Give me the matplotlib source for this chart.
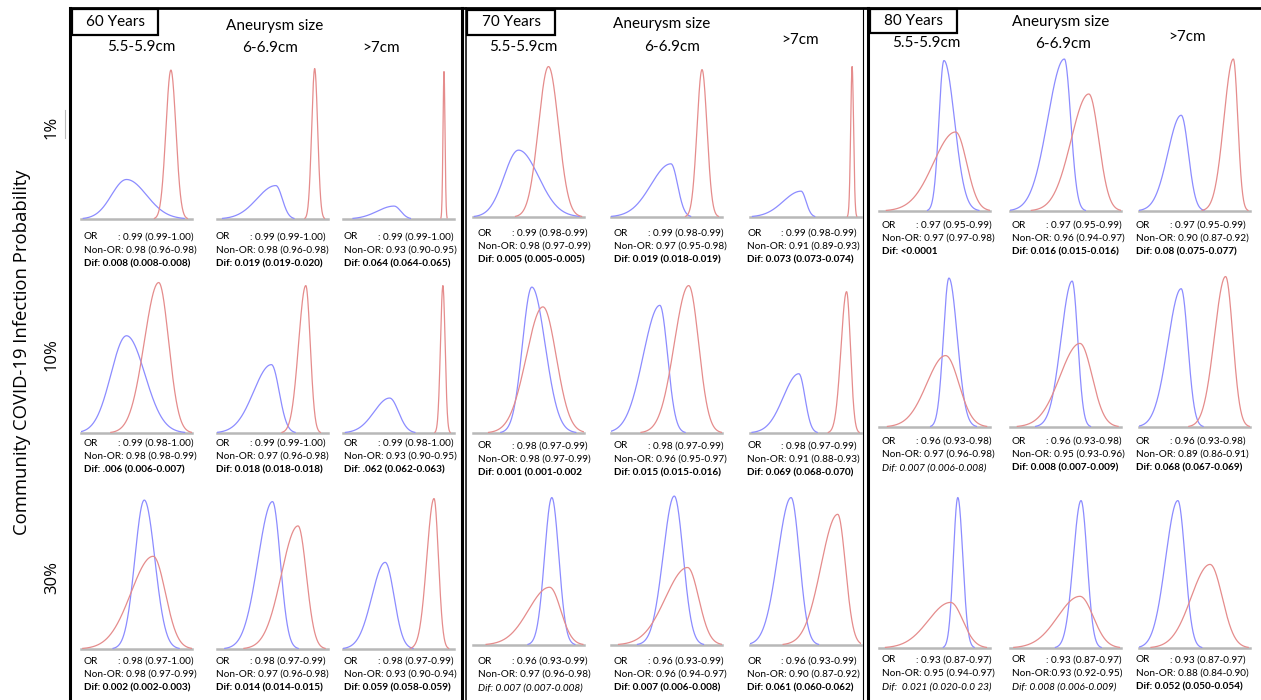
"""Three age panels of OR vs non-OR density curves (3x3 grid each)."""
import numpy as np
import matplotlib

matplotlib.use("Agg")
import matplotlib.pyplot as plt  # noqa: E402
from matplotlib.lines import Line2D  # noqa: E402
from matplotlib.patches import Rectangle  # noqa: E402

AGES = ["60 Years", "70 Years", "80 Years"]
SIZES = ["5.5-5.9cm", "6-6.9cm", ">7cm"]
PROBS = ["1%", "10%", "30%"]

# curve params per cell (row-major): (mode, sd left, sd right, peak height)
BLUE_60 = [(0.41, 0.135, 0.18, 0.26), (0.53, 0.17, 0.058, 0.22), (0.46, 0.15, 0.06, 0.085),
           (0.41, 0.14, 0.165, 0.64), (0.49, 0.16, 0.07, 0.45), (0.42, 0.14, 0.08, 0.23),
           (0.57, 0.085, 0.095, 0.98), (0.50, 0.13, 0.07, 0.97), (0.38, 0.12, 0.08, 0.57)]
RED_60 = [(0.81, 0.045, 0.045, 0.98), (0.88, 0.027, 0.027, 0.99), (0.91, 0.009, 0.009, 0.97),
          (0.70, 0.13, 0.09, 0.99), (0.80, 0.065, 0.04, 0.97), (0.90, 0.022, 0.02, 0.97),
          (0.65, 0.20, 0.11, 0.61), (0.73, 0.15, 0.075, 0.81), (0.82, 0.065, 0.04, 0.99)]
BLUE_70 = [(0.41, 0.13, 0.18, 0.44), (0.54, 0.18, 0.06, 0.35), (0.46, 0.16, 0.045, 0.17),
           (0.53, 0.085, 0.12, 0.96), (0.44, 0.15, 0.07, 0.84), (0.44, 0.14, 0.055, 0.39),
           (0.71, 0.065, 0.063, 0.97), (0.57, 0.10, 0.08, 0.98), (0.37, 0.12, 0.075, 0.97)]
RED_70 = [(0.68, 0.09, 0.09, 0.99), (0.82, 0.045, 0.045, 0.97), (0.92, 0.013, 0.013, 0.99),
          (0.63, 0.15, 0.12, 0.83), (0.70, 0.13, 0.09, 0.97), (0.87, 0.05, 0.035, 0.93),
          (0.69, 0.19, 0.10, 0.38), (0.69, 0.20, 0.10, 0.51), (0.79, 0.15, 0.07, 0.86)]
BLUE_80 = [(0.585, 0.045, 0.095, 0.99), (0.49, 0.15, 0.057, 1.0), (0.38, 0.12, 0.065, 0.63),
           (0.63, 0.05, 0.075, 0.98), (0.56, 0.10, 0.05, 0.96), (0.38, 0.12, 0.06, 0.91),
           (0.71, 0.04, 0.045, 0.99), (0.64, 0.07, 0.055, 0.97), (0.35, 0.11, 0.065, 0.97)]
RED_80 = [(0.69, 0.20, 0.10, 0.52), (0.71, 0.16, 0.09, 0.77), (0.85, 0.085, 0.04, 1.0),
          (0.60, 0.17, 0.12, 0.47), (0.63, 0.18, 0.11, 0.55), (0.78, 0.10, 0.065, 0.99),
          (0.645, 0.20, 0.11, 0.30), (0.63, 0.20, 0.12, 0.34), (0.64, 0.17, 0.11, 0.55)]

OR_60 = ["0.99 (0.99-1.00)", "0.99 (0.99-1.00)", "0.99 (0.99-1.00)",
         "0.99 (0.98-1.00)", "0.99 (0.99-1.00)", "0.99 (0.98-1.00)",
         "0.98 (0.97-1.00)", "0.98 (0.97-0.99)", "0.98 (0.97-0.99)"]
NONOR_60 = ["Non-OR: 0.98 (0.96-0.98)", "Non-OR: 0.98 (0.96-0.98)", "Non-OR: 0.93 (0.90-0.95)",
            "Non-OR: 0.98 (0.98-0.99)", "Non-OR: 0.97 (0.96-0.98)", "Non-OR: 0.93 (0.90-0.95)",
            "Non-OR: 0.98 (0.97-0.99)", "Non-OR: 0.97 (0.96-0.98)", "Non-OR: 0.93 (0.90-0.94)"]
DIF_60 = ["Dif: 0.008 (0.008-0.008)", "Dif: 0.019 (0.019-0.020)", "Dif: 0.064 (0.064-0.065)",
          "Dif: .006 (0.006-0.007)", "Dif: 0.018 (0.018-0.018)", "Dif: .062 (0.062-0.063)",
          "Dif: 0.002 (0.002-0.003)", "Dif: 0.014 (0.014-0.015)", "Dif: 0.059 (0.058-0.059)"]
OR_70 = ["0.99 (0.98-0.99)", "0.99 (0.98-0.99)", "0.99 (0.98-0.99)",
         "0.98 (0.97-0.99)", "0.98 (0.97-0.99)", "0.98 (0.97-0.99)",
         "0.96 (0.93-0.99)", "0.96 (0.93-0.99)", "0.96 (0.93-0.99)"]
NONOR_70 = ["Non-OR: 0.98 (0.97-0.99)", "Non-OR: 0.97 (0.95-0.98)", "Non-OR: 0.91 (0.89-0.93)",
            "Non-OR: 0.98 (0.97-0.99)", "Non-OR: 0.96 (0.95-0.97)", "Non-OR: 0.91 (0.88-0.93)",
            "Non-OR: 0.97 (0.96-0.98)", "Non-OR: 0.96 (0.94-0.97)", "Non-OR: 0.90 (0.87-0.92)"]
DIF_70 = ["Dif: 0.005 (0.005-0.005)", "Dif: 0.019 (0.018-0.019)", "Dif: 0.073 (0.073-0.074)",
          "Dif: 0.001 (0.001-0.002", "Dif: 0.015 (0.015-0.016)", "Dif: 0.069 (0.068-0.070)",
          "Dif: 0.007 (0.007-0.008)", "Dif: 0.007 (0.006-0.008)", "Dif: 0.061 (0.060-0.062)"]
OR_80 = ["0.97 (0.95-0.99)", "0.97 (0.95-0.99)", "0.97 (0.95-0.99)",
         "0.96 (0.93-0.98)", "0.96 (0.93-0.98)", "0.96 (0.93-0.98)",
         "0.93 (0.87-0.97)", "0.93 (0.87-0.97)", "0.93 (0.87-0.97)"]
NONOR_80 = ["Non-OR: 0.97 (0.97-0.98)", "Non-OR: 0.96 (0.94-0.97)", "Non-OR: 0.90 (0.87-0.92)",
            "Non-OR: 0.97 (0.96-0.98)", "Non-OR: 0.95 (0.93-0.96)", "Non-OR: 0.89 (0.86-0.91)",
            "Non-OR: 0.95 (0.94-0.97)", "Non-OR:0.93 (0.92-0.95)", "Non-OR: 0.88 (0.84-0.90)"]
DIF_80 = ["Dif: <0.0001", "Dif: 0.016 (0.015-0.016)", "Dif: 0.08 (0.075-0.077)",
          "Dif: 0.007 (0.006-0.008)", "Dif: 0.008 (0.007-0.009)", "Dif: 0.068 (0.067-0.069)",
          "Dif:  0.021 (0.020-0.0 23)", "Dif: 0.008 (0.006-0.009)", "Dif: 0.052 (0.050-0.054)"]
DIF_ITALIC = [set(), {6}, {3, 6, 7}]

PANELS = [(BLUE_60, RED_60, OR_60, NONOR_60, DIF_60),
          (BLUE_70, RED_70, OR_70, NONOR_70, DIF_70),
          (BLUE_80, RED_80, OR_80, NONOR_80, DIF_80)]

# layout in reference pixels (x from left, y from top)
W, H = 1261, 700
COL_LEFT = [[81, 217, 343], [473, 611, 750], [879, 1010, 1139]]
ROW_BASE = [[219, 433, 649], [217, 433, 645], [211, 427, 648]]
TEXT_X = [[84, 216, 344], [478, 614, 747], [882, 1012, 1136]]
TEXT_Y = [[237, 443, 661], [233, 446, 661], [225, 441, 660]]
CELL_W, CELL_H = 111, 155
BOX = [(72, 9, 86, 26), (467, 10, 88, 25), (870, 9, 87, 24)]
TITLE_XY = [(275, 26), (662, 24), (1061, 22)]
SIZE_XY = [[(141, 47), (270, 48), (381, 48)],
           [(523, 47), (672, 47), (800, 40)],
           [(926, 43), (1063, 44), (1187, 37)]]
PROB_Y = [127, 355, 578]

BLUE = "#8c8cff"
RED = "#e58c8c"
FONT = ["Lato", "DejaVu Sans"]
SMALL = 7.2


def fx(x):
    return x / W


def fy(y):
    return 1 - y / H


def density(x, mode, sl, sr, peak):
    s = np.where(x < mode, sl, sr)
    return peak * np.exp(-0.5 * ((x - mode) / s) ** 2)


fig = plt.figure(figsize=(12.61, 7), dpi=100)
xs = np.linspace(0, 1, 500)

for p, (blue, red, ors, nonors, difs) in enumerate(PANELS):
    # header
    bx, by, bw, bh = BOX[p]
    fig.add_artist(Rectangle((fx(bx), fy(by + bh)), bw / W, bh / H, fill=False,
                             lw=1.6, edgecolor="black", transform=fig.transFigure))
    fig.text(fx(bx + bw / 2), fy(by + bh / 2), AGES[p], ha="center", va="center",
             fontsize=11, family=FONT)
    fig.text(fx(TITLE_XY[p][0]), fy(TITLE_XY[p][1]), "Aneurysm size", ha="center",
             va="center", fontsize=11, family=FONT)
    for c in range(3):
        sx, sy = SIZE_XY[p][c]
        fig.text(fx(sx), fy(sy), SIZES[c], ha="center", va="center", fontsize=11, family=FONT)

    for r in range(3):
        for c in range(3):
            i = r * 3 + c
            left, base = COL_LEFT[p][c], ROW_BASE[p][r]
            ax = fig.add_axes([fx(left), fy(base), CELL_W / W, CELL_H / H])
            ax.set_xlim(0, 1)
            ax.set_ylim(0, 1.02)
            ax.axis("off")
            ax.axhline(0, color="#b8b8b8", lw=1.8, clip_on=False, zorder=1)
            for params, col in ((blue, BLUE), (red, RED)):
                ys = density(xs, *params[i])
                ys = np.where(ys > 0.004, ys, np.nan)
                ax.plot(xs, ys, color=col, lw=0.9, zorder=2)

            tx, ty = TEXT_X[p][c], TEXT_Y[p][r]
            fig.text(fx(tx), fy(ty), "OR", ha="left", va="center", fontsize=SMALL, family=FONT)
            fig.text(fx(tx + 34), fy(ty), ": " + ors[i], ha="left", va="center",
                     fontsize=SMALL, family=FONT)
            fig.text(fx(tx), fy(ty + 13.5), nonors[i], ha="left", va="center",
                     fontsize=SMALL, family=FONT)
            italic = i in DIF_ITALIC[p]
            fig.text(fx(tx), fy(ty + 27), difs[i], ha="left", va="center", fontsize=SMALL,
                     family=FONT, style="italic" if italic else "normal",
                     weight="normal" if italic else "bold")

# panel frames
frame = [((70, 8), (1261, 8), 2.0), ((70, 8), (70, 700), 2.2),
         ((462, 8), (462, 700), 2.2), ((466, 8), (466, 700), 1.1),
         ((863, 8), (863, 700), 0.8), ((868, 8), (868, 700), 2.2)]
for (x0, y0), (x1, y1), lw in frame:
    fig.add_artist(Line2D([fx(x0), fx(x1)], [fy(y0), fy(y1)], color="black", lw=lw,
                          transform=fig.transFigure))
fig.add_artist(Line2D([fx(65), fx(65)], [fy(110), fy(138)], color="#bbbbbb", lw=0.8,
                      transform=fig.transFigure))

fig.text(fx(22), fy(352), "Community COVID-19 Infection Probability", rotation=90,
         ha="center", va="center", fontsize=13.3, family=["Open Sans", "DejaVu Sans"])
for y, lab in zip(PROB_Y, PROBS):
    fig.text(fx(52), fy(y), lab, rotation=90, ha="center", va="center", fontsize=12,
             family=["Open Sans", "DejaVu Sans"])

fig.savefig("out.png", dpi=100)
